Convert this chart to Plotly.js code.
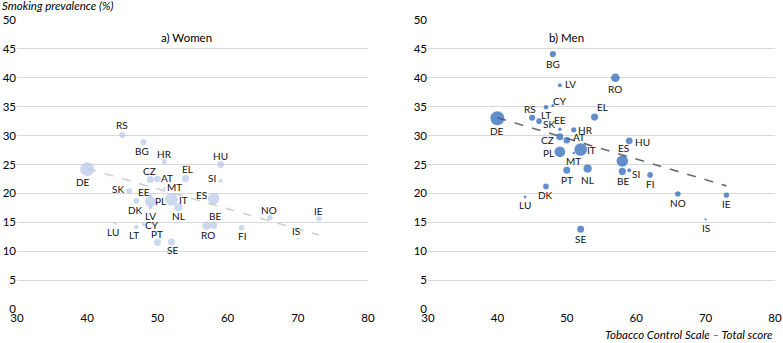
<!DOCTYPE html>
<html>
<head>
<meta charset="utf-8">
<script src="https://cdn.plot.ly/plotly-3.0.1.min.js"></script>
<style>
  html, body { margin: 0; padding: 0; background: #fff; }
  #chart { width: 783px; height: 343px; }
</style>
</head>
<body>
<div id="chart"></div>
<script>
// Country codes
const countries = ["DE","RS","BG","HR","EL","HU","SI","CZ","AT","MT","SK","EE","DK","PL","LV",
                   "IT","NL","ES","BE","RO","FI","NO","IS","IE","SE","PT","LU","LT","CY"];

// Tobacco Control Scale – total score
const tcsScore = [40,45,48,51,54,59,59,49,50,51,46,49,47,49,49,
                  52,53,58,58,57,62,66,70,73,52,50,44,47,48];

// Smoking prevalence (%), women
const womenPrevalence = [24.2,30.1,28.9,25.5,22.6,25.0,22.2,22.4,22.5,20.9,20.4,19.6,18.7,18.6,17.6,
                         19.0,17.6,19.1,14.5,14.4,14.1,15.8,12.2,15.6,11.6,11.5,14.8,14.2,14.6];

// Smoking prevalence (%), men
const menPrevalence = [33.0,33.1,44.1,31.0,33.2,29.1,24.0,29.8,29.2,27.0,32.5,31.1,21.2,27.2,38.7,
                       27.6,24.3,25.6,23.8,40.0,23.2,19.9,15.5,19.7,13.8,24.0,19.4,34.9,35.2];

// Population (millions), drives bubble size
const population = [82.5,7.0,7.1,4.2,10.8,9.8,2.1,10.6,8.8,0.46,5.4,1.3,5.7,38.0,1.95,
                    60.6,17.1,46.5,11.4,19.6,5.5,5.3,0.34,4.8,10.0,10.3,0.59,2.8,0.85];

// Linear trend endpoints
const trendX = [40, 73];
const trendWomen = [24.3, 12.8];
const trendMen = [33.1, 21.3];

// Label offsets from bubble centre, in pixels [dx, dy] (dy down)
const womenLabelShift = [[-4,13],[0,-10],[-1,9],[0,-8],[2,-9],[0,-9],[-9,-3],[-1,-9],[10,-1],[10,-1],[-11,-2],[-6,-4],[-1,9],[10,0],[0,9],
  [12,1],[0,9],[-12,-4],[1,-9],[1,9],[0,8],[-1,-8],[-2,-7],[0,-8],[1,8],[0,-9],[-2,9],[-2,8],[9,0]];
const menLabelShift = [[0,13],[-2,-9],[0,10],[12,0],[8,-10],[13,1],[7,4],[-12,3],[12,-3],[0,8],[10,3],[0,-9],[0,9],[-11,1],[11,-1],
  [11,1],[0,11],[1,-13],[1,10],[0,11],[0,9],[0,9],[0,9],[0,9],[0,10],[0,10],[0,8],[0,8],[7,-5]];

const FONT = "Lato, 'Open Sans', sans-serif";
const bubbleSize = population.map(p => 3.2 * Math.cbrt(p));

function bubbles(y, color, xa, ya) {
  return {
    type: "scatter", mode: "markers",
    x: tcsScore, y: y, text: countries,
    xaxis: xa, yaxis: ya, cliponaxis: false,
    marker: { size: bubbleSize, color: color, line: { width: 0 } },
    hoverinfo: "x+y+text", showlegend: false
  };
}
function trend(y, color, xa, ya) {
  return {
    type: "scatter", mode: "lines", x: trendX, y: y, xaxis: xa, yaxis: ya,
    line: { color: color, width: 1.6, dash: "dash" },
    hoverinfo: "skip", showlegend: false
  };
}
function countryLabels(y, shifts, xa, ya) {
  return countries.map((c, i) => ({
    text: c, x: tcsScore[i], y: y[i], xref: xa, yref: ya,
    xshift: shifts[i][0], yshift: -shifts[i][1],
    xanchor: "center", yanchor: "middle", showarrow: false,
    font: { family: FONT, size: 10, color: "#111" }
  }));
}

const data = [
  trend(trendWomen, "#cfcfcf", "x", "y"),
  bubbles(womenPrevalence, "#b6c8e8", "x", "y"),
  trend(trendMen, "#6b6b6b", "x2", "y2"),
  bubbles(menPrevalence, "#1f5fb5", "x2", "y2")
];

const xCommon = {
  range: [30, 80], dtick: 10, showgrid: false, zeroline: false, showline: false,
  ticks: "", tickfont: { family: FONT, size: 11.5, color: "#000" }, fixedrange: true
};
const yCommon = {
  range: [0, 50], dtick: 5, showgrid: true, gridcolor: "#d9d9d9", gridwidth: 1,
  zeroline: false, showline: false, ticks: "",
  tickfont: { family: FONT, size: 11.5, color: "#000" }, fixedrange: true
};

const titleNotes = [
  { text: "Smoking prevalence (%)", xref: "paper", yref: "paper", x: 0, y: 0.985,
    xanchor: "left", yanchor: "middle", showarrow: false,
    font: { family: FONT, size: 11.5, color: "#000", style: "italic" } },
  { text: "a) Women", xref: "paper", yref: "paper", x: 0.2388, y: 0.892,
    xanchor: "center", yanchor: "middle", showarrow: false,
    font: { family: FONT, size: 11.5, color: "#000" } },
  { text: "b) Men", xref: "paper", yref: "paper", x: 0.7229, y: 0.892,
    xanchor: "center", yanchor: "middle", showarrow: false,
    font: { family: FONT, size: 11.5, color: "#000" } },
  { text: "Tobacco Control Scale – Total score", xref: "paper", yref: "paper", x: 0.9898, y: 0.026,
    xanchor: "right", yanchor: "middle", align: "right", showarrow: false,
    font: { family: FONT, size: 11.5, color: "#000", style: "italic" } }
];

const layout = {
  width: 783, height: 343,
  margin: { l: 0, r: 0, t: 0, b: 0 },
  paper_bgcolor: "#fff", plot_bgcolor: "#fff",
  font: { family: FONT },
  xaxis: Object.assign({}, xCommon, { domain: [0.0217, 0.470], anchor: "y" }),
  yaxis: Object.assign({}, yCommon, { domain: [0.0991, 0.9417], anchor: "x" }),
  xaxis2: Object.assign({}, xCommon, { domain: [0.5466, 0.9898], anchor: "y2" }),
  yaxis2: Object.assign({}, yCommon, { domain: [0.0991, 0.9417], anchor: "x2" }),
  annotations: titleNotes
    .concat(countryLabels(womenPrevalence, womenLabelShift, "x", "y"))
    .concat(countryLabels(menPrevalence, menLabelShift, "x2", "y2"))
};

Plotly.newPlot("chart", data, layout, { displayModeBar: false, staticPlot: true });
</script>
</body>
</html>
